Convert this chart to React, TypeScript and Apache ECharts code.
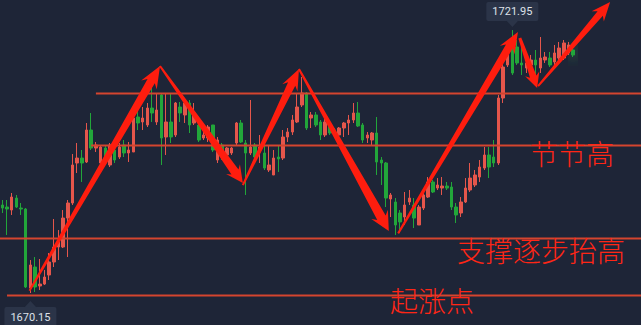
import React, { useEffect, useRef } from "react";
import * as echarts from "echarts";

// ---- data ----
const categories: string[] = Array.from({ length: 137 }, (_, i) => String(i + 1));

// [open, close, low, high]
const ohlc: number[][] = [
  [1687.49, 1686.89, 1685.91, 1688.47], [1687.09, 1686.7, 1681.58, 1688.47], [1686.5, 1689.06, 1685.52, 1689.85],
  [1688.86, 1687.09, 1686.89, 1689.46], [1686.89, 1686.7, 1685.52, 1687.88], [1686.7, 1671.33, 1671.13, 1686.89],
  [1671.13, 1675.67, 1670.15, 1676.65], [1675.27, 1671.33, 1670.35, 1677.24], [1671.53, 1671.92, 1670.74, 1676.85],
  [1671.92, 1673.3, 1671.73, 1674.68], [1673.7, 1676.26, 1672.71, 1678.03], [1676.26, 1679.21, 1675.27, 1684.73],
  [1679.21, 1680.2, 1676.65, 1682.56], [1679.21, 1684.92, 1679.01, 1686.5], [1684.92, 1687.88, 1677.24, 1688.47],
  [1687.88, 1695.37, 1687.49, 1697.53], [1695.76, 1696.74, 1693.79, 1699.7], [1696.74, 1695.76, 1692.02, 1698.32],
  [1695.96, 1702.26, 1695.76, 1703.64], [1702.26, 1698.71, 1698.32, 1705.61], [1698.71, 1699.31, 1697.93, 1699.9],
  [1695.76, 1698.91, 1695.37, 1699.31], [1698.71, 1696.74, 1695.37, 1699.31], [1695.37, 1699.31, 1694.97, 1699.7],
  [1698.32, 1696.35, 1695.76, 1698.91], [1696.94, 1698.91, 1696.55, 1699.7], [1699.31, 1697.73, 1696.94, 1700.29],
  [1697.73, 1698.32, 1695.96, 1699.9], [1697.93, 1704.62, 1697.93, 1704.82], [1704.82, 1703.64, 1702.26, 1706.2],
  [1703.84, 1704.62, 1702.26, 1706.79], [1703.25, 1706.59, 1702.85, 1707.58], [1706.59, 1705.61, 1703.84, 1711.13],
  [1703.84, 1706.2, 1703.25, 1709.55], [1709.16, 1700.68, 1695.37, 1709.55], [1700.88, 1703.84, 1697.34, 1709.55],
  [1703.84, 1700.88, 1699.7, 1709.55], [1701.28, 1707.58, 1700.88, 1707.78], [1706.79, 1705.61, 1703.84, 1707.78],
  [1705.22, 1707.58, 1703.64, 1707.78], [1707.58, 1703.25, 1701.67, 1708.17], [1703.64, 1705.61, 1703.25, 1707.58],
  [1703.25, 1700.29, 1699.9, 1703.64], [1700.68, 1701.28, 1700.29, 1702.65], [1700.68, 1702.85, 1699.9, 1703.25],
  [1703.25, 1698.32, 1697.93, 1703.25], [1696.35, 1700.29, 1695.76, 1700.88], [1699.31, 1697.93, 1696.35, 1699.7],
  [1697.34, 1698.71, 1696.35, 1698.91], [1697.73, 1698.71, 1697.34, 1698.91], [1699.7, 1703.64, 1699.31, 1703.84],
  [1703.64, 1699.9, 1699.7, 1704.23], [1699.7, 1697.73, 1689.46, 1700.29], [1697.73, 1698.91, 1697.34, 1708.17],
  [1699.31, 1696.94, 1696.35, 1699.7], [1697.93, 1698.91, 1695.76, 1701.28], [1697.73, 1694.77, 1694.38, 1699.7],
  [1694.38, 1695.37, 1693.99, 1699.31], [1693.4, 1696.74, 1693.4, 1698.32], [1696.94, 1696.55, 1693.99, 1699.31],
  [1696.74, 1700.88, 1696.35, 1702.26], [1700.88, 1701.87, 1699.9, 1702.65], [1701.87, 1704.23, 1701.28, 1705.22],
  [1703.84, 1706.79, 1703.64, 1709.55], [1707.19, 1709.55, 1706.79, 1712.7], [1709.55, 1702.65, 1702.26, 1709.75],
  [1704.62, 1705.22, 1702.65, 1705.81], [1705.22, 1703.25, 1702.85, 1705.81], [1703.84, 1701.28, 1700.29, 1704.23],
  [1701.28, 1703.84, 1700.88, 1704.62], [1702.85, 1701.67, 1701.28, 1703.64], [1702.26, 1701.28, 1700.88, 1702.65],
  [1701.28, 1702.65, 1700.29, 1702.85], [1702.65, 1703.64, 1700.88, 1703.84], [1703.64, 1704.23, 1701.28, 1705.22],
  [1704.23, 1705.61, 1703.64, 1707.58], [1705.61, 1703.05, 1702.85, 1707.78], [1703.25, 1700.29, 1699.7, 1703.64],
  [1700.68, 1701.28, 1699.7, 1701.87], [1700.29, 1701.67, 1699.31, 1701.87], [1701.67, 1695.96, 1693.4, 1704.82],
  [1696.35, 1695.76, 1691.43, 1696.94], [1695.76, 1688.86, 1687.09, 1695.96], [1688.67, 1689.46, 1685.12, 1689.85],
  [1688.08, 1683.55, 1681.58, 1688.86], [1685.91, 1684.14, 1681.97, 1686.5], [1685.12, 1687.49, 1683.55, 1690.05],
  [1688.08, 1688.86, 1687.49, 1690.44], [1687.49, 1684.92, 1682.95, 1688.86], [1683.55, 1687.09, 1683.55, 1687.49],
  [1686.89, 1689.46, 1686.5, 1690.05], [1689.06, 1692.02, 1688.86, 1693.0], [1692.02, 1690.05, 1689.85, 1692.41],
  [1690.83, 1691.43, 1690.44, 1692.8], [1690.83, 1691.23, 1689.46, 1693.0], [1691.23, 1690.83, 1690.44, 1692.02],
  [1691.03, 1687.09, 1686.5, 1692.02], [1687.09, 1685.52, 1683.94, 1687.88], [1685.91, 1688.08, 1685.12, 1689.06],
  [1688.08, 1690.83, 1687.88, 1692.8], [1690.44, 1692.8, 1690.05, 1695.76], [1691.43, 1693.4, 1691.03, 1694.38],
  [1693.0, 1694.97, 1692.02, 1696.35], [1694.77, 1697.34, 1694.38, 1698.91], [1697.34, 1694.97, 1692.8, 1698.91],
  [1696.94, 1695.76, 1694.97, 1700.29], [1695.76, 1708.56, 1695.37, 1709.16], [1708.56, 1714.67, 1707.58, 1715.46],
  [1715.07, 1718.02, 1714.67, 1718.61], [1719.99, 1713.49, 1713.1, 1721.95], [1718.61, 1715.46, 1715.07, 1719.99],
  [1715.46, 1715.07, 1713.1, 1719.01], [1714.47, 1715.46, 1713.49, 1716.64], [1715.07, 1716.05, 1714.08, 1717.04],
  [1716.05, 1715.07, 1713.1, 1718.02], [1714.47, 1716.44, 1713.49, 1720.58], [1716.05, 1716.64, 1715.46, 1717.63],
  [1716.44, 1715.07, 1714.67, 1717.63], [1715.66, 1717.43, 1715.07, 1719.01], [1716.44, 1718.41, 1716.05, 1719.6],
  [1716.44, 1719.4, 1716.05, 1719.99], [1717.43, 1719.01, 1717.04, 1719.6], [1718.02, 1717.04, 1716.64, 1718.41],
];

const highLabel = { index: 109, price: 1721.95, text: "1721.95" };
const lowLabel = { index: 6, price: 1670.15, text: "1670.15" };

// horizontal levels: price, start index
const levelPrices: number[] = [1709.55, 1699.31, 1680.99, 1669.76];
const levelStarts: number[] = [20, 19, -0.5, 1];

// arrows: [tailIndex, tailPrice, tipIndex, tipPrice]
const arrowPoints: number[][] = [
  [5.8, 1670.6, 33.7, 1714.87],
  [33.7, 1714.87, 51.4, 1691.82],
  [51.4, 1691.4, 63.4, 1714.28],
  [63.4, 1714.28, 82.6, 1682.36],
  [84.6, 1681.9, 110.2, 1721.57],
  [110.6, 1720.38, 114.3, 1710.53],
  [114.5, 1710.9, 129.9, 1727.48],
];

const noteTexts: string[] = ["节节高", "支撑逐步抬高", "起涨点"];

const Y_MIN = 1663.85;
const Y_MAX = 1727.87;
const UP = "#e5564b";
const DOWN = "#22a63a";
const BG = "#1e2537";
const LEVEL = "#d4452f";
const ARROW = "#fe1d0e";

export default function App() {
  const ref = useRef<HTMLDivElement>(null);
  useEffect(() => {
    if (!ref.current) return;
    const chart = echarts.init(ref.current, null, { renderer: "svg" });
    const data = ohlc.map((d, i) =>
      i === ohlc.length - 1
        ? { value: d, itemStyle: { shadowBlur: 14, shadowColor: "rgba(70,255,90,0.9)" } }
        : d
    );
    chart.setOption({
      animation: false,
      backgroundColor: BG,
      grid: { left: 0, right: 0, top: 0, bottom: 0 },
      xAxis: { type: "category", data: categories, boundaryGap: true, show: false },
      yAxis: { type: "value", min: Y_MIN, max: Y_MAX, show: false, splitLine: { show: false } },
      series: [
        {
          type: "candlestick",
          data,
          barWidth: 3,
          itemStyle: { color: UP, color0: DOWN, borderColor: UP, borderColor0: DOWN, borderWidth: 1 },
        },
      ],
    });

    const x0 = chart.convertToPixel({ xAxisIndex: 0 }, 0) as number;
    const x1 = chart.convertToPixel({ xAxisIndex: 0 }, 1) as number;
    const px = (idx: number) => x0 + (x1 - x0) * idx;
    const py = (p: number) => chart.convertToPixel({ yAxisIndex: 0 }, p) as number;
    const W = chart.getWidth();

    const g: any[] = [];
    levelPrices.forEach((p, k) => {
      const y = Math.round(py(p)) + 0.5;
      g.push({
        type: "line",
        z: 100,
        shape: { x1: Math.max(0, px(levelStarts[k])), y1: y, x2: W, y2: y },
        style: { stroke: LEVEL, lineWidth: 2 },
      });
    });

    const sizes = [
      [1, 4.2, 22, 9],
      [1, 4.3, 17, 8.5],
      [1, 4.0, 21, 8.5],
      [1, 4.8, 19, 9.5],
      [1, 4.0, 21, 8.5],
      [1.5, 3.4, 15, 7.5],
      [1, 3.5, 19, 8],
    ];
    arrowPoints.forEach((a, k) => {
      const tx = px(a[0]), ty = py(a[1]), hx = px(a[2]), hy = py(a[3]);
      const dx = hx - tx, dy = hy - ty;
      const len = Math.sqrt(dx * dx + dy * dy);
      const ux = dx / len, uy = dy / len;
      const nx = -uy, ny = ux;
      const [w0, w1, hl, hw] = sizes[k];
      const neckX = hx - ux * hl * 0.8, neckY = hy - uy * hl * 0.8;
      const baseX = hx - ux * hl, baseY = hy - uy * hl;
      g.push({
        type: "polygon",
        z: 110,
        shape: {
          points: [
            [tx + nx * w0, ty + ny * w0],
            [neckX + nx * w1, neckY + ny * w1],
            [baseX + nx * hw, baseY + ny * hw],
            [hx, hy],
            [baseX - nx * hw, baseY - ny * hw],
            [neckX - nx * w1, neckY - ny * w1],
            [tx - nx * w0, ty - ny * w0],
          ],
        },
        style: { fill: ARROW },
      });
    });

    // price labels
    const hX = px(highLabel.index), hY = py(highLabel.price);
    g.push({
      type: "group",
      z: 120,
      children: [
        { type: "rect", z: 120, shape: { x: hX - 26, y: hY - 28, width: 52, height: 19, r: 2 }, style: { fill: "#2b3448" } },
        { type: "polygon", z: 120, shape: { points: [[hX - 6, hY - 9.5], [hX + 6, hY - 9.5], [hX, hY - 3]] }, style: { fill: "#2b3448" } },
        {
          type: "text", z: 121, x: hX, y: hY - 18.5,
          style: { text: highLabel.text, fill: "#dde1e8", fontSize: 11, fontFamily: "Roboto", align: "center", verticalAlign: "middle" },
        },
      ],
    });
    const lX = px(lowLabel.index), lY = py(lowLabel.price);
    g.push({
      type: "group",
      z: 120,
      children: [
        { type: "rect", z: 120, shape: { x: lX - 26, y: lY + 14, width: 52, height: 20, r: 2 }, style: { fill: "#2b3448" } },
        { type: "polygon", z: 120, shape: { points: [[lX - 6, lY + 14.5], [lX + 6, lY + 14.5], [lX, lY + 8]] }, style: { fill: "#2b3448" } },
        {
          type: "text", z: 121, x: lX, y: lY + 24,
          style: { text: lowLabel.text, fill: "#dde1e8", fontSize: 11, fontFamily: "Roboto", align: "center", verticalAlign: "middle" },
        },
      ],
    });

    const notePos = [
      [530, 153],
      [457, 250],
      [390, 300],
    ];
    noteTexts.forEach((t, k) => {
      g.push({
        type: "text",
        z: 130,
        x: notePos[k][0],
        y: notePos[k][1],
        style: {
          text: t,
          fill: "#ff2616",
          fontSize: 28,
          fontFamily: "Noto Sans CJK SC",
          fontWeight: 300,
          align: "left",
          verticalAlign: "middle",
        },
      });
    });

    chart.setOption({ graphic: g });
    return () => chart.dispose();
  }, []);
  return <div ref={ref} style={{ position: "absolute", left: 0, top: 0, width: 641, height: 325 }} />;
}
